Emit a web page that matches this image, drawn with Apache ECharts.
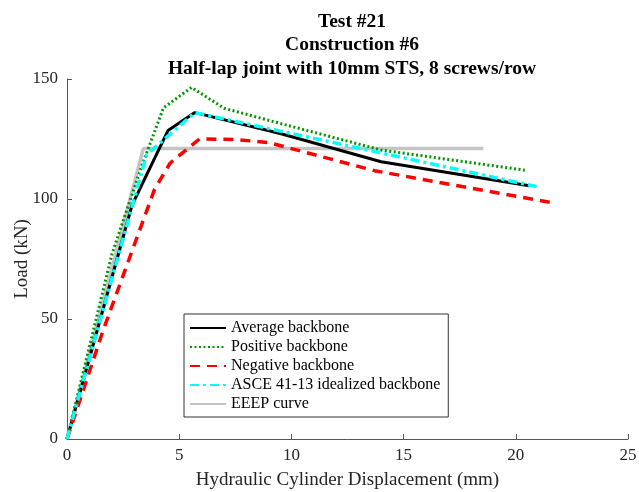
<!DOCTYPE html>
<html>
<head>
<meta charset="utf-8">
<script src="https://cdn.jsdelivr.net/npm/echarts@6/dist/echarts.min.js"></script>
<style>html,body{margin:0;padding:0;background:#fff;}#c{width:639px;height:492px;}</style>
</head>
<body>
<div id="c"></div>
<script>
var titleLines = ['Test #21', 'Construction #6', 'Half-lap joint with 10mm STS, 8 screws/row'];
var xTicks = [0, 5, 10, 15, 20, 25];
var yTicks = [0, 50, 100, 150];
var seriesNames = ['Average backbone', 'Positive backbone', 'Negative backbone', 'ASCE 41-13 idealized backbone', 'EEEP curve'];

var averageX = [0, 2.9, 4.5, 5.7, 9.5, 14.0, 20.6];
var averageY = [0, 97.5, 128.5, 136, 127.3, 115.5, 105.5];

var positiveX = [0, 2.0, 3.3, 4.3, 5.55, 7.0, 9.5, 14.0, 20.4];
var positiveY = [0, 77, 113, 138, 146.5, 137.8, 131.5, 120.4, 112];

var negativeX = [0, 1.6, 3.9, 4.6, 5.9, 7.5, 9.0, 13.7, 21.7];
var negativeY = [0, 45, 104, 115, 125, 124.8, 123.5, 111.8, 98.3];

var asceX = [0, 3.55, 5.7, 21.0];
var asceY = [0, 118.5, 136, 105];

var eeepX = [0, 3.4, 18.55];
var eeepY = [0, 121, 121];

function pairs(xs, ys) { return xs.map(function (x, i) { return [x, ys[i]]; }); }

var serif = '"Liberation Serif", "DejaVu Serif", serif';
var chart = echarts.init(document.getElementById('c'));

function mk(name, xs, ys, color, type, width, z) {
  return {
    name: name, type: 'line', data: pairs(xs, ys), symbol: 'none', showSymbol: false,
    lineStyle: { color: color, type: type, width: width, cap: 'butt' },
    itemStyle: { color: color }, z: z, animation: false
  };
}

chart.setOption({
  animation: false,
  title: {
    text: titleLines.join('\n'),
    left: 347, top: 5, textAlign: 'center',
    textStyle: { fontFamily: serif, fontSize: 19.5, fontWeight: 'bold', color: '#000', lineHeight: 23.5 }
  },
  grid: { left: 67, right: 11, top: 79, bottom: 53, containLabel: false, outerBoundsMode: 'none' },
  legend: {
    orient: 'vertical', left: 184, top: 314,
    backgroundColor: '#fff', borderColor: '#333', borderWidth: 1,
    padding: [6, 8, 5, 5], itemGap: 3, itemWidth: 36, itemHeight: 16,
    itemStyle: { opacity: 0 },
    textStyle: { fontFamily: serif, fontSize: 16, color: '#000' },
    data: seriesNames
  },
  xAxis: {
    type: 'value', min: 0, max: 25, interval: 5,
    name: 'Hydraulic Cylinder Displacement (mm)', nameLocation: 'middle', nameGap: 32,
    nameTextStyle: { fontFamily: serif, fontSize: 19, color: '#262626' },
    axisLine: { show: true, onZero: false, lineStyle: { color: '#555', width: 1 } },
    axisTick: { show: true, inside: true, length: 5, lineStyle: { color: '#555' } },
    axisLabel: { fontFamily: serif, fontSize: 17, color: '#262626', margin: 8,
      formatter: function (v) { return xTicks.indexOf(v) >= 0 ? String(v) : ''; } },
    splitLine: { show: false }
  },
  yAxis: {
    type: 'value', min: 0, max: 150, interval: 50,
    name: 'Load (kN)', nameLocation: 'middle', nameGap: 35, nameMoveOverlap: false,
    nameTextStyle: { fontFamily: serif, fontSize: 19, color: '#262626' },
    axisLine: { show: true, lineStyle: { color: '#555', width: 1 } },
    axisTick: { show: true, inside: true, length: 5, lineStyle: { color: '#555' } },
    axisLabel: { fontFamily: serif, fontSize: 17, color: '#262626', margin: 9,
      formatter: function (v) { return yTicks.indexOf(v) >= 0 ? String(v) : ''; } },
    splitLine: { show: false }
  },
  series: [
    mk(seriesNames[4], eeepX, eeepY, '#c4c4c4', 'solid', 3.5, 1),
    mk(seriesNames[0], averageX, averageY, '#000000', 'solid', 3, 2),
    mk(seriesNames[1], positiveX, positiveY, '#009600', [2, 2.5], 3, 3),
    mk(seriesNames[2], negativeX, negativeY, '#ff0000', [10, 7], 3.5, 4),
    mk(seriesNames[3], asceX, asceY, '#00ffff', [9, 4, 3, 4], 3.5, 5)
  ]
});
</script>
</body>
</html>
